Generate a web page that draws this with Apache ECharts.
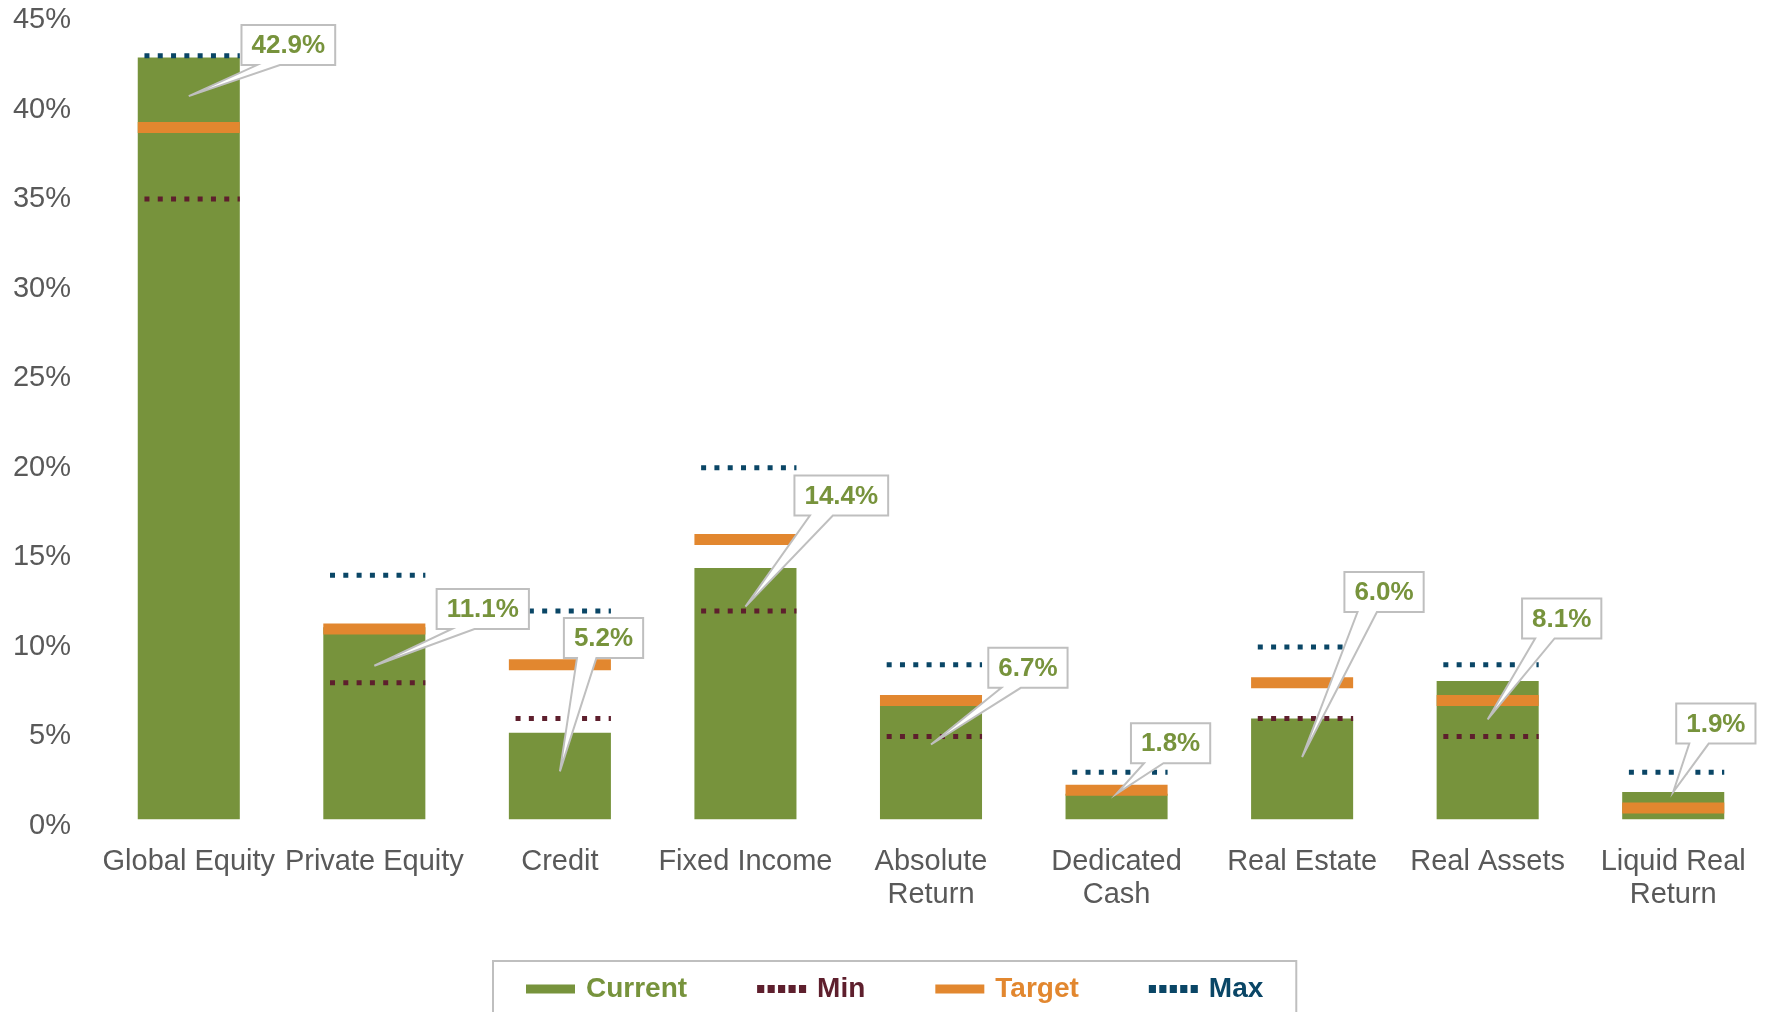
<!DOCTYPE html>
<html>
<head>
<meta charset="utf-8">
<script src="https://cdn.jsdelivr.net/npm/echarts@6/dist/echarts.min.js"></script>
<style>
  html, body { margin: 0; padding: 0; background: #fff; }
  #chart { width: 1766px; height: 1012px; }
</style>
</head>
<body>
<div id="chart"></div>
<script>
// ---- data ----
const categories = ['Global Equity', 'Private Equity', 'Credit', 'Fixed Income', 'Absolute\nReturn',
  'Dedicated\nCash', 'Real Estate', 'Real Assets', 'Liquid Real\nReturn'];
const current = [42.9, 11.1, 5.2, 14.4, 6.7, 1.8, 6.0, 8.1, 1.9];
const minAlloc = [35, 8, 6, 12, 5, 0, 6, 5, 0];
const targetAlloc = [39, 11, 9, 16, 7, 2, 8, 7, 1];
const maxAlloc = [43, 14, 12, 20, 9, 3, 10, 9, 3];
const yMin = 0, yMax = 45, yStep = 5;

// ---- layout / style (not data) ----
const calloutOffsets = [[52.7, -31], [62.3, -36.7], [4, -113.3], [49, -91], [57.3, -56.7],
  [14.4, -30.6], [42.3, -145], [34.4, -81], [3, -48.4]];
const C_GREEN = '#77933C', C_ORANGE = '#E2872F', C_MIN = '#5E1F2D', C_MAX = '#0A4666';
const FONT = '"Liberation Sans", Arial, sans-serif';
const BAR_FRAC = 0.55;

const measureCtx = document.createElement('canvas').getContext('2d');
measureCtx.font = 'bold 26px ' + FONT;

function markerSeries(name, values, color, width, dashed, z) {
  return {
    name: name,
    type: 'custom',
    z: z,
    itemStyle: { color: color },
    encode: { x: 0, y: 1 },
    data: values.map((v, i) => [i, v]),
    renderItem: function (params, api) {
      const pt = api.coord([api.value(0), api.value(1)]);
      const bw = api.size([1, 0])[0] * BAR_FRAC;
      const style = { stroke: color, lineWidth: width, lineCap: 'butt', fill: null };
      if (dashed) { style.lineDash = [5, 8.3]; style.lineDashOffset = 6.6; }
      return {
        type: 'line',
        shape: { x1: pt[0] - bw / 2, y1: pt[1], x2: pt[0] + bw / 2, y2: pt[1] },
        style: style
      };
    }
  };
}

const chart = echarts.init(document.getElementById('chart'), null, { renderer: 'canvas' });

const option = {
  animation: false,
  backgroundColor: '#fff',
  grid: { left: 96, right: 0, top: 20, bottom: 186, containLabel: false },
  xAxis: {
    type: 'category',
    data: categories,
    axisLine: { show: false },
    axisTick: { show: false },
    axisLabel: {
      interval: 0, margin: 19, color: '#595959', fontSize: 29, lineHeight: 33, fontFamily: FONT
    }
  },
  yAxis: {
    type: 'value',
    min: yMin, max: yMax, interval: yStep,
    splitLine: { show: false },
    axisLine: { show: false },
    axisTick: { show: false },
    axisLabel: { formatter: '{value}%', margin: 25, color: '#595959', fontSize: 29, fontFamily: FONT }
  },
  legend: {
    left: 493, top: 961,
    padding: [14, 33, 45, 33],
    borderColor: '#BFBFBF', borderWidth: 2,
    itemGap: 70, itemWidth: 49, itemHeight: 9,
    textStyle: { fontSize: 28, fontWeight: 'bold', fontFamily: FONT, padding: [0, 0, 0, 6] },
    data: [
      { name: 'Current', icon: 'rect', itemStyle: { color: C_GREEN }, textStyle: { color: C_GREEN } },
      { name: 'Min', icon: 'path://M0,0h7v8h-7z M10.25,0h7v8h-7z M20.5,0h7v8h-7z M30.75,0h7v8h-7z M41,0h7v8h-7z',
        itemStyle: { color: C_MIN }, textStyle: { color: C_MIN } },
      { name: 'Target', icon: 'rect', itemStyle: { color: C_ORANGE }, textStyle: { color: C_ORANGE } },
      { name: 'Max', icon: 'path://M0,0h7v8h-7z M10.25,0h7v8h-7z M20.5,0h7v8h-7z M30.75,0h7v8h-7z M41,0h7v8h-7z',
        itemStyle: { color: C_MAX }, textStyle: { color: C_MAX } }
    ]
  },
  series: [
    {
      name: 'Current', type: 'bar', data: current, barWidth: (BAR_FRAC * 100) + '%',
      itemStyle: { color: C_GREEN }, z: 2
    },
    markerSeries('Min', minAlloc, C_MIN, 5, true, 3),
    markerSeries('Target', targetAlloc, C_ORANGE, 11, false, 4),
    markerSeries('Max', maxAlloc, C_MAX, 5, true, 5),
    {
      name: 'callouts', type: 'custom', z: 20, clip: false, silent: true,
      encode: { x: 0, y: 1 },
      data: current.map((v, i) => [i, v]),
      renderItem: function (params, api) {
        const idx = api.value(0), v = api.value(1);
        const top = api.coord([idx, v]);
        const base = api.coord([idx, 0]);
        const visH = base[1] - 7 - top[1];
        const tipX = top[0];
        const tipY = visH > 60 ? top[1] + 38.5 : top[1];
        const off = calloutOffsets[idx];
        const text = v.toFixed(1) + '%';
        const w = measureCtx.measureText(text).width + 20;
        const h = 40;
        const L = tipX + off[0], B = tipY + off[1], T = B - h, R = L + w;
        const x1 = L + 0.165 * w, x2 = L + 0.41 * w;
        return {
          type: 'group',
          children: [
            {
              type: 'polygon',
              shape: { points: [[L, T], [R, T], [R, B], [x2, B], [tipX, tipY], [x1, B], [L, B]] },
              style: { fill: '#fff', stroke: '#BFBFBF', lineWidth: 2, lineJoin: 'miter' }
            },
            {
              type: 'text', x: (L + R) / 2, y: (T + B) / 2 + 1,
              style: { text: text, fill: C_GREEN, font: 'bold 26px ' + FONT, align: 'center', verticalAlign: 'middle' }
            }
          ]
        };
      }
    }
  ]
};

chart.setOption(option);

// white strip masking the bottom of the plot, like the reference
const y0 = chart.convertToPixel({ yAxisIndex: 0 }, 0);
chart.setOption({
  graphic: [{
    type: 'rect', z: 10, silent: true,
    shape: { x: 90, y: y0 - 6.8, width: 1680, height: 13 },
    style: { fill: '#fff' }
  }]
});
</script>
</body>
</html>
